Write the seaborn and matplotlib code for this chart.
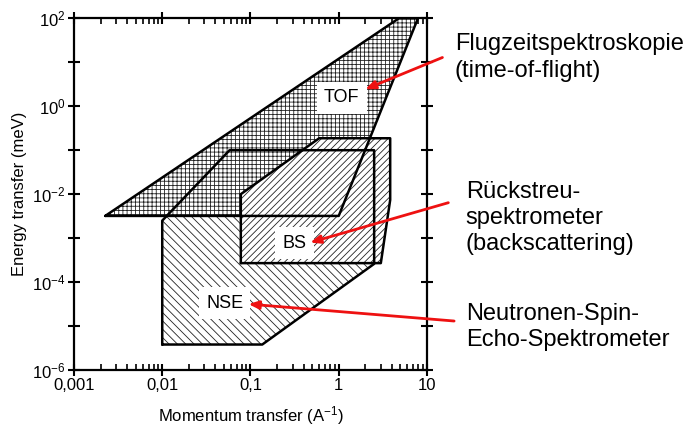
import matplotlib
matplotlib.use("Agg")
import matplotlib.pyplot as plt
import matplotlib.ticker as mticker
import seaborn as sns

sns.set_theme(style="ticks")
plt.rcParams['font.family'] = ['Liberation Sans', 'DejaVu Sans']
plt.rcParams['mathtext.fontset'] = 'custom'
plt.rcParams['mathtext.rm'] = 'Liberation Sans'
plt.rcParams['mathtext.it'] = 'Liberation Sans:italic'
plt.rcParams['hatch.linewidth'] = 0.6
for key in ['text.color', 'axes.labelcolor', 'xtick.color', 'ytick.color',
            'xtick.labelcolor', 'ytick.labelcolor']:
    plt.rcParams[key] = 'black'

# Bereiche der Spektrometer (Q in 1/A, E in meV)
tof_q = [0.00226, 4.8, 7.9, 1.0]
tof_e = [3.2e-3, 100, 100, 3.2e-3]

nse_q = [0.01, 0.01, 0.058, 2.52, 2.52, 0.136]
nse_e = [3.8e-6, 2.5e-3, 0.1, 0.1, 2.6e-4, 3.8e-6]

bs_q = [0.0777, 0.0777, 0.6, 3.83, 3.83, 3.0]
bs_e = [2.7e-4, 1.0e-2, 0.187, 0.187, 7.4e-3, 2.7e-4]

# Beschriftungen in den Flaechen
labels = ['TOF', 'BS', 'NSE']
label_q = [1.08, 0.315, 0.0509]
label_e = [1.55, 7.7e-4, 3.33e-5]

# Pfeile: Spitze (Daten) und Ursprung (Figur)
arrow_q = [1.99, 0.474, 0.0947]
arrow_e = [2.43, 7.94e-4, 3.16e-5]
arrow_from = [(0.644, 0.866), (0.6526, 0.5275), (0.661, 0.2517)]

notes = ['Flugzeitspektroskopie\n(time-of-flight)',
         'Rückstreu-\nspektrometer\n(backscattering)',
         'Neutronen-Spin-\nEcho-Spektrometer']
note_pos = [(0.662, 0.866), (0.678, 0.4918), (0.678, 0.2378)]

x_ticks = [0.001, 0.01, 0.1, 1, 10]
x_labels = ['0,001', '0,01', '0,1', '1', '10']
y_ticks = [1e-6, 1e-5, 1e-4, 1e-3, 1e-2, 1e-1, 1e0, 1e1, 1e2]
y_labels = [r'$\mathregular{10^{-6}}$', '', r'$\mathregular{10^{-4}}$', '',
            r'$\mathregular{10^{-2}}$', '', r'$\mathregular{10^{0}}$', '',
            r'$\mathregular{10^{2}}$']

fig = plt.figure(figsize=(6.87, 4.29), dpi=100)
ax = fig.add_axes([0.1077, 0.1375, 0.5138, 0.8198])
ax.set_xscale('log')
ax.set_yscale('log')

# Flaechen mit Schraffur (Reihenfolge bestimmt Ueberdeckung)
ax.fill(nse_q, nse_e, facecolor='white', edgecolor='#222222', hatch='\\\\\\\\', lw=0, zorder=1)
ax.fill(tof_q, tof_e, facecolor='white', edgecolor='#222222', hatch='++++', lw=0, zorder=2)
ax.fill(bs_q, bs_e, facecolor='white', edgecolor='#222222', hatch='/////', lw=0, zorder=3)

# Umrisse
for qs, es in [(nse_q, nse_e), (tof_q, tof_e), (bs_q, bs_e)]:
    sns.lineplot(x=qs + [qs[0]], y=es + [es[0]], sort=False, estimator=None,
                 color='black', lw=1.8, ax=ax, zorder=4)

for lab, q, e in zip(labels, label_q, label_e):
    ax.text(q, e, lab, fontsize=13, ha='center', va='center', zorder=5,
            bbox=dict(boxstyle='square,pad=0.4', fc='white', ec='none'))

for q, e, start in zip(arrow_q, arrow_e, arrow_from):
    ax.annotate('', xy=(q, e), xycoords='data', xytext=start, textcoords='figure fraction',
                arrowprops=dict(arrowstyle='-|>,head_length=0.5,head_width=0.2',
                                color='#ee1111', lw=2, shrinkA=0, shrinkB=0),
                zorder=6, annotation_clip=False)

for txt, (fx, fy) in zip(notes, note_pos):
    fig.text(fx, fy, txt, fontsize=17, ha='left', va='center', linespacing=1.25)

ax.set_xlim(1e-3, 10)
ax.set_ylim(1e-6, 1e2)
ax.xaxis.set_major_locator(mticker.FixedLocator(x_ticks))
ax.xaxis.set_major_formatter(mticker.FixedFormatter(x_labels))
ax.xaxis.set_minor_locator(mticker.LogLocator(base=10, subs=range(2, 10), numticks=20))
ax.xaxis.set_minor_formatter(mticker.NullFormatter())
ax.yaxis.set_major_locator(mticker.FixedLocator(y_ticks))
ax.yaxis.set_major_formatter(mticker.FixedFormatter(y_labels))
ax.yaxis.set_minor_locator(mticker.NullLocator())

ax.tick_params(which='major', direction='inout', length=8, width=1.5,
               top=True, right=True, labelsize=12, pad=2)
ax.tick_params(which='minor', direction='in', length=4, width=1.2, top=True, right=False)
for sp in ax.spines.values():
    sp.set_linewidth(1.6)
    sp.set_color('black')

ax.set_xlabel('Momentum transfer (A$^{\\mathregular{-1}}$)', fontsize=12, labelpad=8)
ax.set_ylabel('Energy transfer (meV)', fontsize=12, labelpad=4)

fig.savefig('out.png', dpi=100)
